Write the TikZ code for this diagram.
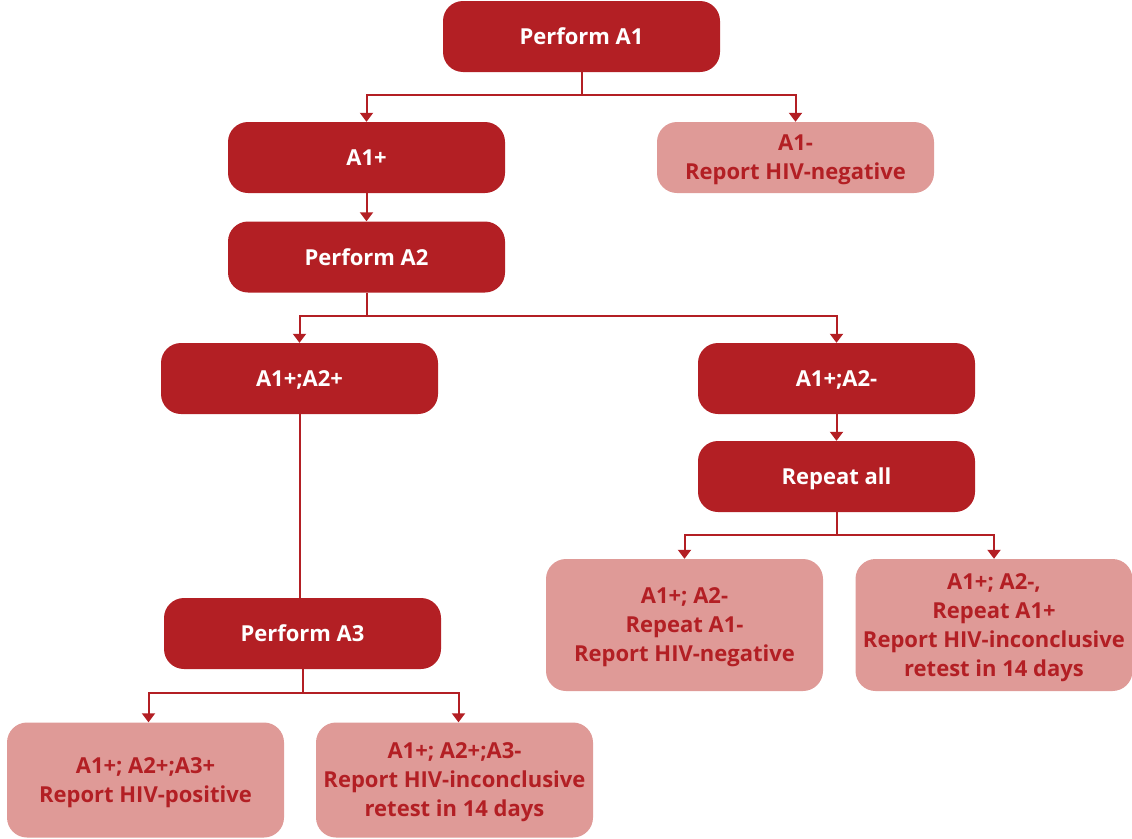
\documentclass[tikz,border=0pt]{standalone}
\usepackage{fontspec}
\setmainfont{Open Sans}
\usetikzlibrary{arrows.meta}
\definecolor{dred}{HTML}{B31F24}
\definecolor{lred}{HTML}{DF9A97}
\tikzset{
  dbox/.style={rectangle, rounded corners=20pt, fill=dred, text=white, minimum width=277pt, minimum height=71pt, align=center, font=\fontsize{22}{29}\selectfont\bfseries, inner sep=0pt, text depth=0pt},
  lbox/.style={dbox, fill=lred, text=dred},
  conn/.style={draw=dred, line width=2pt},
  arr/.style={conn, -{Triangle[width=13pt,length=9pt]}},
}
\begin{document}
\begin{tikzpicture}[x=1pt,y=-1pt]
\useasboundingbox (0,0) rectangle (1132,838);
\node[dbox] (p1) at (581.5,36.5) {Perform A1};
\node[dbox] (a1p) at (366.5,157.5) {A1+};
\node[lbox] (a1m) at (795.5,157.5) {A1-\\Report HIV-negative};
\node[dbox] (p2) at (366.5,257) {Perform A2};
\node[dbox] (a2p) at (299.5,378.5) {A1+;A2+};
\node[dbox] (a2m) at (836.5,378.5) {A1+;A2-};
\node[dbox] (rep) at (836.5,476.5) {Repeat all};
\node[lbox, minimum height=132pt] (r1) at (684.5,625) {A1+; A2-\\Repeat A1-\\Report HIV-negative};
\node[lbox, minimum height=132pt] (r2) at (994,625) {A1+; A2-,\\Repeat A1+\\Report HIV-inconclusive\\retest in 14 days};
\node[dbox] (p3) at (302.5,633.5) {Perform A3};
\node[lbox, minimum height=115pt] (b1) at (145.5,780) {A1+; A2+;A3+\\Report HIV-positive};
\node[lbox, minimum height=115pt] (b2) at (454.5,780) {A1+; A2+;A3-\\Report HIV-inconclusive\\retest in 14 days};
\coordinate (j1) at (581.5,95);
\coordinate (j2) at (366.5,316);
\coordinate (j3) at (836.5,535);
\coordinate (j4) at (302.5,693);
\draw[arr] (p1.south) -- (j1) -| (a1p.north);
\draw[arr] (j1) -| (a1m.north);
\draw[arr] (a1p) -- (p2);
\draw[arr] (p2.south) -- (j2) -| (a2p.north);
\draw[arr] (j2) -| (a2m.north);
\draw[conn] (a2p.south) -- (a2p.south |- p3.north);
\draw[arr] (a2m) -- (rep);
\draw[arr] (rep.south) -- (j3) -| (r1.north);
\draw[arr] (j3) -| (r2.north);
\draw[arr] (p3.south) -- (j4) -| ([xshift=3pt]b1.north);
\draw[arr] (j4) -| ([xshift=4pt]b2.north);
\end{tikzpicture}
\end{document}
